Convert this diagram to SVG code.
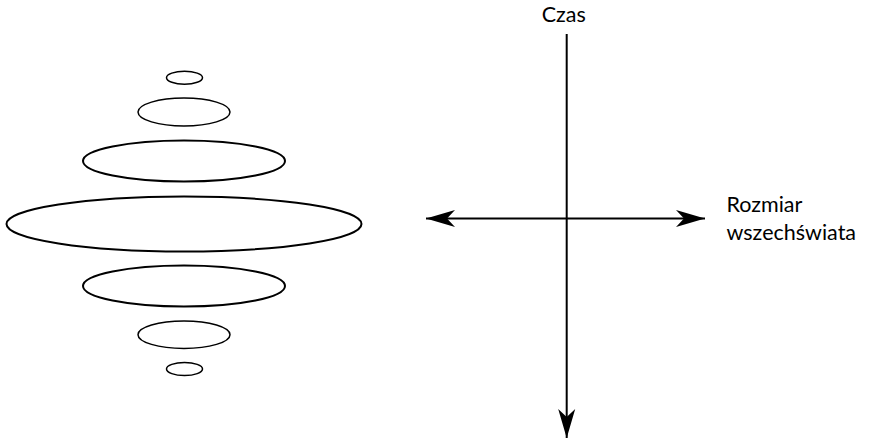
<svg xmlns="http://www.w3.org/2000/svg" width="870" height="442" viewBox="0 0 870 442">
<style>
.e{fill:none;stroke:#000;stroke-width:2}
.ax{fill:none;stroke:#000;stroke-width:2}
.t{font-family:Lato,"Open Sans",sans-serif;font-size:21.5px;fill:#000}
</style>
<defs>
<marker id="ah" markerUnits="userSpaceOnUse" orient="auto-start-reverse" viewBox="-31 -10 32 20" markerWidth="32" markerHeight="20" refX="0" refY="0">
<path d="M0,0 L-29,-8.5 L-21,0 L-29,8.5 Z" fill="#000"/>
</marker>
</defs>
<g id="ellipses">
<ellipse id="e1" class="e" cx="184.5" cy="77.7" rx="18" ry="6.5" style="stroke-width:1.5"/>
<ellipse id="e2" class="e" cx="184" cy="112" rx="46" ry="14" style="stroke-width:1.5"/>
<ellipse id="e3" class="e" cx="184" cy="161" rx="101" ry="20.5"/>
<ellipse id="e4" class="e" cx="184" cy="224" rx="177.5" ry="27.5"/>
<ellipse id="e5" class="e" cx="184" cy="286" rx="101" ry="20.5"/>
<ellipse id="e6" class="e" cx="184" cy="334.7" rx="46" ry="13.7" style="stroke-width:1.5"/>
<ellipse id="e7" class="e" cx="184.5" cy="369" rx="18" ry="6.5" style="stroke-width:1.5"/>
</g>
<g id="connectors">
<line class="ax" x1="566.7" y1="34" x2="566.7" y2="438" marker-end="url(#ah)"/>
<line class="ax" x1="426" y1="218.5" x2="705" y2="218.5" marker-start="url(#ah)" marker-end="url(#ah)"/>
</g>
<g id="labels">
<text id="czas" class="t" x="563.7" y="21.7" text-anchor="middle">Czas</text>
<text id="rozmiar" class="t" x="726.5" y="212.3">Rozmiar</text>
<text id="wsz" class="t" x="726.5" y="240">wszechświata</text>
</g>
</svg>
